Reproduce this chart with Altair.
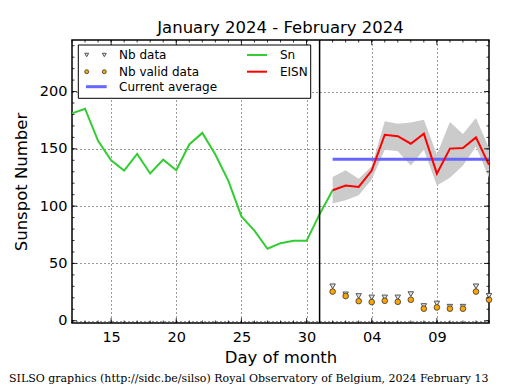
import altair as alt
import pandas as pd

# ---------------- data ----------------
sn_days = [12, 13, 14, 15, 16, 17, 18, 19, 20, 21, 22, 23, 24, 25, 26, 27, 28, 29, 30, 31, 32]
sn_values = [181, 185, 157, 140, 131, 145.5, 128.5, 140.6, 131.4, 153.8, 163.9, 145, 122, 91,
             78.6, 62.8, 67.7, 69.7, 69.7, 93, 113.9]

eisn_days = [32, 33, 34, 35, 36, 37, 38, 39, 40, 41, 42, 43, 44]
eisn_values = [113.9, 118, 116.8, 131, 162.3, 161, 154.5, 163.2, 128.4, 150.2, 150.8, 160, 136]
eisn_upper = [125.5, 131.3, 124, 134.8, 174, 172, 173, 175.4, 145, 173.4, 163, 176.9, 150.8]
eisn_lower = [102.3, 105.2, 109.6, 123.2, 149.3, 148, 135.4, 149.3, 118, 124.7, 135.4, 152, 124.7]
nb_data = [30, 23, 21.5, 20.3, 20.3, 20.3, 23.2, 12.8, 15, 12.2, 12.2, 30, 21.7]
nb_valid = [25.4, 21.5, 17.1, 16.3, 17.4, 16.5, 18.3, 10.5, 11.6, 10.5, 10.5, 25.4, 18.3]

current_average = 141
average_days = [32, 44]
separator_day = 31

x_domain = [12, 44]
y_domain = [-2, 245]
x_tick_values = [15, 20, 25, 30, 35, 40]
x_tick_labels = ["15", "20", "25", "30", "04", "09"]
y_tick_values = [0, 50, 100, 150, 200]
x_minor = list(range(12, 45))
y_minor = list(range(0, 250, 10))

title_text = "January 2024 - February 2024"
x_title = "Day of month"
y_title = "Sunspot Number"
footer_text = "SILSO graphics (http://sidc.be/silso) Royal Observatory of Belgium, 2024 February 13"
legend_labels = ["Nb data", "Nb valid data", "Current average", "Sn", "EISN"]

# ---------------- tables ----------------
sn_df = pd.DataFrame({"day": sn_days, "value": sn_values})
eisn_df = pd.DataFrame({"day": eisn_days, "value": eisn_values,
                        "upper": eisn_upper, "lower": eisn_lower,
                        "nb": nb_data, "nbv": nb_valid})
avg_df = pd.DataFrame({"day": average_days, "value": [current_average] * len(average_days)})
sep_df = pd.DataFrame({"day": [separator_day]})
xmin_df = pd.DataFrame({"day": x_minor})
xmaj_df = pd.DataFrame({"day": x_tick_values})
ymin_df = pd.DataFrame({"value": y_minor})
ymaj_df = pd.DataFrame({"value": y_tick_values})
one = pd.DataFrame({"k": [0]})

W, H = 417, 283
FONT = "DejaVu Sans"
xs = alt.Scale(domain=x_domain, nice=False, zero=False)
ys = alt.Scale(domain=y_domain, nice=False, zero=False)

label_expr = "''"
for v, lab in zip(reversed(x_tick_values), reversed(x_tick_labels)):
    label_expr = f"datum.value == {v} ? '{lab}' : ({label_expr})"

x_axis = alt.Axis(values=x_tick_values, labelExpr=label_expr, grid=True, gridColor="black",
                  gridDash=[1, 3], gridWidth=0.8, ticks=False, domain=False,
                  labelFont=FONT, labelFontSize=14.5, labelColor="black", labelPadding=7,
                  title=x_title, titleFont=FONT, titleFontSize=16.5, titleFontWeight="normal",
                  titleColor="black", titlePadding=6)
y_axis = alt.Axis(values=y_tick_values, grid=True, gridColor="black", gridDash=[1, 3],
                  gridWidth=0.8, ticks=False, domain=False,
                  labelFont=FONT, labelFontSize=14.5, labelColor="black", labelPadding=5,
                  title=y_title, titleFont=FONT, titleFontSize=16.5, titleFontWeight="normal",
                  titleColor="black", titlePadding=10)

X = alt.X("day:Q", scale=xs, axis=x_axis)
def Y(field):
    return alt.Y(f"{field}:Q", scale=ys, axis=y_axis)

band = alt.Chart(eisn_df).mark_area(color="#cbcbcb", opacity=1).encode(
    x=X, y=Y("lower"), y2="upper:Q")
avg_line = alt.Chart(avg_df).mark_line(color="#6666ff", strokeWidth=3).encode(x=X, y=Y("value"))
sn_line = alt.Chart(sn_df).mark_line(color="#33cc33", strokeWidth=2).encode(x=X, y=Y("value"))
eisn_line = alt.Chart(eisn_df).mark_line(color="#ff0000", strokeWidth=2).encode(x=X, y=Y("value"))
tri = alt.Chart(eisn_df).mark_point(shape="triangle-down", filled=True, fill="#e0e0e0",
                                    stroke="#555555", strokeWidth=1, size=30, opacity=1).encode(
    x=X, y=Y("nb"))
circ = alt.Chart(eisn_df).mark_point(shape="circle", filled=True, fill="#ffa500",
                                     stroke="#333333", strokeWidth=0.8, size=32, opacity=1).encode(
    x=X, y=Y("nbv"))
sep = alt.Chart(sep_df).mark_rule(color="black", strokeWidth=1.5).encode(x=X)

# inward ticks on all four sides
def xticks(df, length, at_top):
    y0 = 0 if at_top else H
    y1 = length if at_top else H - length
    return alt.Chart(df).mark_rule(color="black", strokeWidth=0.8).encode(
        x=X, y=alt.value(y0), y2=alt.value(y1))

def yticks(df, length, at_right):
    x0 = W if at_right else 0
    x1 = W - length if at_right else length
    return alt.Chart(df).mark_rule(color="black", strokeWidth=0.8).encode(
        y=Y("value"), x=alt.value(x0), x2=alt.value(x1))

tick_layers = [xticks(xmin_df, 2.5, False), xticks(xmin_df, 2.5, True),
               xticks(xmaj_df, 5, False), xticks(xmaj_df, 5, True),
               yticks(ymin_df, 2.5, False), yticks(ymin_df, 2.5, True),
               yticks(ymaj_df, 5, False), yticks(ymaj_df, 5, True)]

# legend
LF = 12
legend_box = alt.Chart(one).mark_rect(fill="white", stroke="black", strokeWidth=1).encode(
    x=alt.value(6.3), x2=alt.value(238.7), y=alt.value(5), y2=alt.value(58.3))
leg_layers = [legend_box]
for sx in (14.7, 32.3):
    leg_layers.append(alt.Chart(one).mark_point(shape="triangle-down", filled=True, fill="#e0e0e0",
                                                stroke="#555555", strokeWidth=1, size=16, opacity=1).encode(
        x=alt.value(sx), y=alt.value(15)))
    leg_layers.append(alt.Chart(one).mark_point(shape="circle", filled=True, fill="#ffa500",
                                                stroke="#333333", strokeWidth=0.8, size=16, opacity=1).encode(
        x=alt.value(sx), y=alt.value(31.7)))
leg_layers.append(alt.Chart(one).mark_rule(color="#6666ff", strokeWidth=3).encode(
    x=alt.value(14), x2=alt.value(34.7), y=alt.value(46.7)))
leg_layers.append(alt.Chart(one).mark_rule(color="#33cc33", strokeWidth=2).encode(
    x=alt.value(175), x2=alt.value(195), y=alt.value(15)))
leg_layers.append(alt.Chart(one).mark_rule(color="#ff0000", strokeWidth=2).encode(
    x=alt.value(175), x2=alt.value(195), y=alt.value(31.7)))
for lab, lx, ly in zip(legend_labels, [47, 47, 47, 208, 208], [15, 31.7, 46.7, 15, 31.7]):
    leg_layers.append(alt.Chart(one).mark_text(text=lab, align="left", baseline="middle",
                                               font=FONT, fontSize=LF, color="black").encode(
        x=alt.value(lx), y=alt.value(ly)))

title = alt.Chart(one).mark_text(text=title_text, align="center", baseline="alphabetic",
                                 font=FONT, fontSize=16.5, color="black").encode(
    x=alt.value(W / 2), y=alt.value(-7))
footer = alt.Chart(one).mark_text(text=footer_text, align="left", baseline="middle",
                                  font="DejaVu Serif", fontSize=11, color="black").encode(
    x=alt.value(-63), y=alt.value(339))

chart = alt.layer(band, avg_line, sn_line, eisn_line, sep, tri, circ,
                  *tick_layers, *leg_layers, title, footer).properties(
    width=W, height=H,
    autosize=alt.AutoSizeParams(type="none"),
    padding={"left": 64, "top": 32, "right": 18, "bottom": 68},
    background="white",
).configure_view(stroke="black", strokeWidth=1.5)

chart.save("out.html", embed_options={"renderer": "svg", "actions": False})
